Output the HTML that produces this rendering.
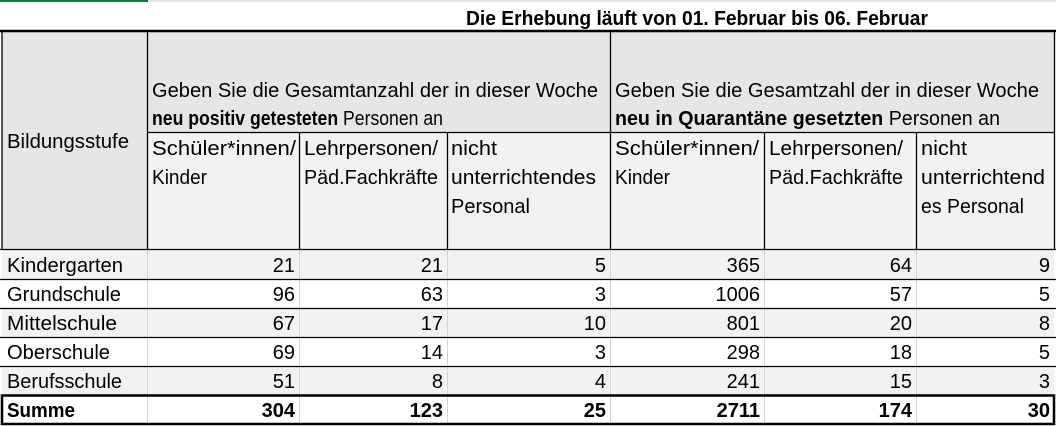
<!DOCTYPE html>
<html><head><meta charset="utf-8"><style>
html,body{margin:0;padding:0;background:#fff;}
svg{display:block;}
text{font-family:"Liberation Sans",sans-serif;font-size:20px;fill:#000;}
.b{font-weight:bold;}
.r{text-anchor:end;}
</style></head><body>
<svg width="1056" height="426" viewBox="0 0 1056 426" xmlns="http://www.w3.org/2000/svg">
<rect x="0" y="0" width="1056" height="426" fill="#fff"/>
<line x1="0" y1="1" x2="1056" y2="1" stroke="#c8c8c8" stroke-width="1"/>
<rect x="0" y="0" width="148" height="2" fill="#217346"/>
<text x="466" y="25" class="b" textLength="462" lengthAdjust="spacingAndGlyphs">Die Erhebung läuft von 01. Februar bis 06. Februar</text>
<rect x="2" y="32" width="1052" height="217" fill="#e6e6e6"/>
<rect x="147" y="132" width="907" height="117" fill="#f2f2f2"/>
<rect x="2" y="250" width="1052" height="29" fill="#f2f2f2"/>
<rect x="2" y="308" width="1052" height="29" fill="#f2f2f2"/>
<rect x="2" y="366" width="1052" height="29" fill="#f2f2f2"/>
<g stroke="#d4d4d4" stroke-width="1">
<line x1="147.5" y1="249" x2="147.5" y2="424"/>
<line x1="299.5" y1="249" x2="299.5" y2="424"/>
<line x1="447.5" y1="249" x2="447.5" y2="424"/>
<line x1="610.5" y1="249" x2="610.5" y2="424"/>
<line x1="764.5" y1="249" x2="764.5" y2="424"/>
<line x1="916.5" y1="249" x2="916.5" y2="424"/>
</g>
<g stroke="#000" stroke-width="1.3">
<line x1="0" y1="31" x2="1056" y2="31" stroke-width="2.5"/>
<line x1="2" y1="31" x2="2" y2="249"/>
<line x1="147.5" y1="31" x2="147.5" y2="249"/>
<line x1="610.5" y1="31" x2="610.5" y2="249"/>
<line x1="1054.5" y1="31" x2="1054.5" y2="249"/>
<line x1="147" y1="132.5" x2="1055" y2="132.5"/>
<line x1="299.5" y1="132" x2="299.5" y2="249"/>
<line x1="447.5" y1="132" x2="447.5" y2="249"/>
<line x1="764.5" y1="132" x2="764.5" y2="249"/>
<line x1="916.5" y1="132" x2="916.5" y2="249"/>
<line x1="0" y1="249.5" x2="1056" y2="249.5"/>
<line x1="0" y1="279.5" x2="1056" y2="279.5"/>
<line x1="0" y1="308.5" x2="1056" y2="308.5"/>
<line x1="0" y1="337.5" x2="1056" y2="337.5"/>
<line x1="0" y1="366.5" x2="1056" y2="366.5"/>
</g>
<rect x="2" y="395.5" width="1052" height="28.5" fill="none" stroke="#000" stroke-width="2.5"/>
<text x="7" y="148" textLength="122" lengthAdjust="spacingAndGlyphs">Bildungsstufe</text>
<text x="152" y="97" textLength="446" lengthAdjust="spacingAndGlyphs">Geben Sie die Gesamtanzahl der in dieser Woche</text>
<text x="152" y="125" textLength="291" lengthAdjust="spacingAndGlyphs"><tspan class="b">neu positiv getesteten</tspan> Personen an</text>
<text x="615" y="97" textLength="424" lengthAdjust="spacingAndGlyphs">Geben Sie die Gesamtzahl der in dieser Woche</text>
<text x="615" y="125" textLength="385" lengthAdjust="spacingAndGlyphs"><tspan class="b">neu in Quarantäne gesetzten</tspan> Personen an</text>
<text x="152" y="155" textLength="144" lengthAdjust="spacingAndGlyphs">Schüler*innen/</text>
<text x="152" y="184" textLength="55" lengthAdjust="spacingAndGlyphs">Kinder</text>
<text x="304" y="155" textLength="134" lengthAdjust="spacingAndGlyphs">Lehrpersonen/</text>
<text x="304" y="184" textLength="134" lengthAdjust="spacingAndGlyphs">Päd.Fachkräfte</text>
<text x="451" y="155" textLength="46" lengthAdjust="spacingAndGlyphs">nicht</text>
<text x="451" y="184" textLength="145" lengthAdjust="spacingAndGlyphs">unterrichtendes</text>
<text x="451" y="213" textLength="79" lengthAdjust="spacingAndGlyphs">Personal</text>
<text x="615" y="155" textLength="144" lengthAdjust="spacingAndGlyphs">Schüler*innen/</text>
<text x="615" y="184" textLength="55" lengthAdjust="spacingAndGlyphs">Kinder</text>
<text x="769" y="155" textLength="134" lengthAdjust="spacingAndGlyphs">Lehrpersonen/</text>
<text x="769" y="184" textLength="134" lengthAdjust="spacingAndGlyphs">Päd.Fachkräfte</text>
<text x="921" y="155" textLength="46" lengthAdjust="spacingAndGlyphs">nicht</text>
<text x="921" y="184" textLength="124" lengthAdjust="spacingAndGlyphs">unterrichtend</text>
<text x="921" y="213" textLength="103" lengthAdjust="spacingAndGlyphs">es Personal</text>
<text x="7" y="272" textLength="116" lengthAdjust="spacingAndGlyphs">Kindergarten</text>
<text x="7" y="301" textLength="114" lengthAdjust="spacingAndGlyphs">Grundschule</text>
<text x="7" y="330" textLength="110" lengthAdjust="spacingAndGlyphs">Mittelschule</text>
<text x="7" y="359" textLength="103" lengthAdjust="spacingAndGlyphs">Oberschule</text>
<text x="7" y="388" textLength="115" lengthAdjust="spacingAndGlyphs">Berufsschule</text>
<text x="7" y="417" class="b" textLength="68" lengthAdjust="spacingAndGlyphs">Summe</text>
<text class="r" x="295" y="272">21</text><text class="r" x="443" y="272">21</text><text class="r" x="606" y="272">5</text><text class="r" x="760" y="272">365</text><text class="r" x="912" y="272">64</text><text class="r" x="1050" y="272">9</text>
<text class="r" x="295" y="301">96</text><text class="r" x="443" y="301">63</text><text class="r" x="606" y="301">3</text><text class="r" x="760" y="301">1006</text><text class="r" x="912" y="301">57</text><text class="r" x="1050" y="301">5</text>
<text class="r" x="295" y="330">67</text><text class="r" x="443" y="330">17</text><text class="r" x="606" y="330">10</text><text class="r" x="760" y="330">801</text><text class="r" x="912" y="330">20</text><text class="r" x="1050" y="330">8</text>
<text class="r" x="295" y="359">69</text><text class="r" x="443" y="359">14</text><text class="r" x="606" y="359">3</text><text class="r" x="760" y="359">298</text><text class="r" x="912" y="359">18</text><text class="r" x="1050" y="359">5</text>
<text class="r" x="295" y="388">51</text><text class="r" x="443" y="388">8</text><text class="r" x="606" y="388">4</text><text class="r" x="760" y="388">241</text><text class="r" x="912" y="388">15</text><text class="r" x="1050" y="388">3</text>
<text class="r b" x="295" y="417">304</text><text class="r b" x="443" y="417">123</text><text class="r b" x="606" y="417">25</text><text class="r b" x="760" y="417">2711</text><text class="r b" x="912" y="417">174</text><text class="r b" x="1050" y="417">30</text>
</svg>
</body></html>
